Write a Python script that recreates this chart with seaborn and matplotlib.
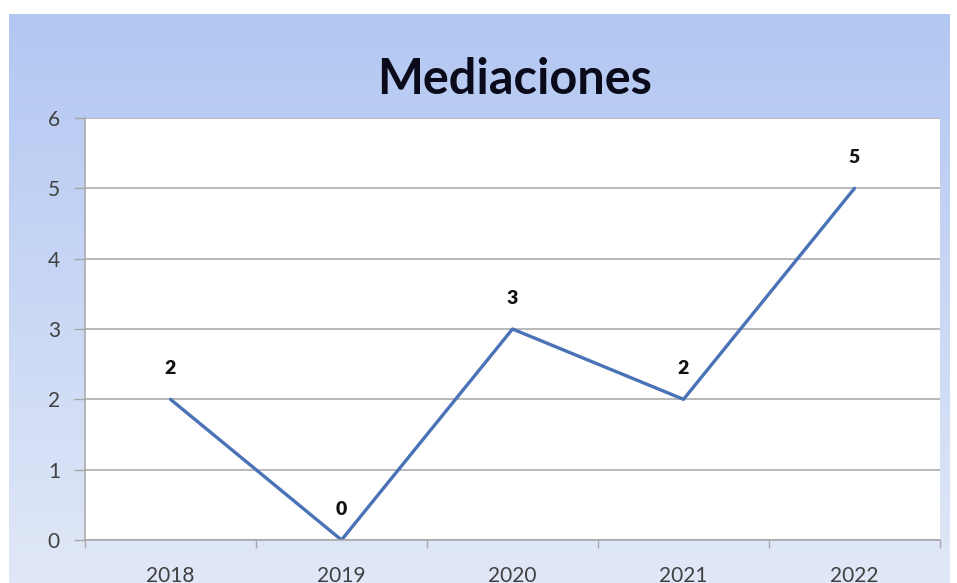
import numpy as np
import pandas as pd
import matplotlib
matplotlib.use("Agg")
import matplotlib.pyplot as plt
import seaborn as sns

years = ["2018", "2019", "2020", "2021", "2022"]
values = [2, 0, 3, 2, 5]
title = "Mediaciones"

sns.set_theme(style="white")
plt.rcParams['font.family'] = ['Lato', 'DejaVu Sans']

W, H = 957, 583
fig = plt.figure(figsize=(W / 100, H / 100), dpi=100)
fig.patch.set_facecolor("white")

# gradient background panel
bg = fig.add_axes([9 / W, 0, (950 - 9) / W, (H - 14) / H], zorder=0)
top = np.array([0.70, 0.78, 0.95])
bot = np.array([0.88, 0.91, 0.97])
t = np.linspace(0, 1, 256)[:, None]
grad = top[None, :] * (1 - t) + bot[None, :] * t
grad = np.repeat(grad[:, None, :], 2, axis=1)
bg.imshow(grad, aspect="auto", extent=[0, 1, 0, 1], origin="upper")
bg.set_axis_off()

ax = fig.add_axes([85 / W, (H - 540) / H, (940 - 85) / W, (540 - 118) / H], zorder=1)
ax.set_facecolor("white")
df = pd.DataFrame({"year": years, "value": values})
sns.lineplot(data=df, x="year", y="value", ax=ax, color="#4A72B6", linewidth=2.4, sort=False)

ax.set_xlim(-0.5, len(years) - 0.5)
ax.set_ylim(0, 6)
ax.set_yticks(range(0, 7))
ax.yaxis.grid(True, color="#A6A6A6", linewidth=1.1)
ax.set_axisbelow(True)
ax.set_xlabel("")
ax.set_ylabel("")
for s in ["top", "right"]:
    ax.spines[s].set_visible(False)
ax.spines["left"].set_color("#A6A6A6")
ax.spines["bottom"].set_color("#A6A6A6")
ax.spines["left"].set_linewidth(1.1)
ax.spines["bottom"].set_linewidth(1.1)

ax.set_xticks(range(len(years)))
ax.set_xticklabels(years)
ax.set_xticks(np.arange(-0.5, len(years), 1.0), minor=True)
ax.tick_params(axis="x", which="major", length=0, pad=19, labelsize=15, labelcolor="#404040")
ax.tick_params(axis="x", which="minor", length=6, width=1, color="#A6A6A6", direction="out", bottom=True)
ax.tick_params(axis="y", length=8, width=1, color="#A6A6A6", direction="out", left=True,
               labelsize=15, labelcolor="#404040", pad=10)

for i, v in enumerate(values):
    ax.annotate(str(v), (i, v), xytext=(0, 22), textcoords="offset points",
                ha="center", va="center", fontsize=14, fontweight="heavy", color="#111111")

fig.text(515 / W, 1 - 80 / H, title, ha="center", va="center",
         fontsize=35, fontweight="bold", color="#0A0A1A")

fig.savefig("out.png", dpi=100)
